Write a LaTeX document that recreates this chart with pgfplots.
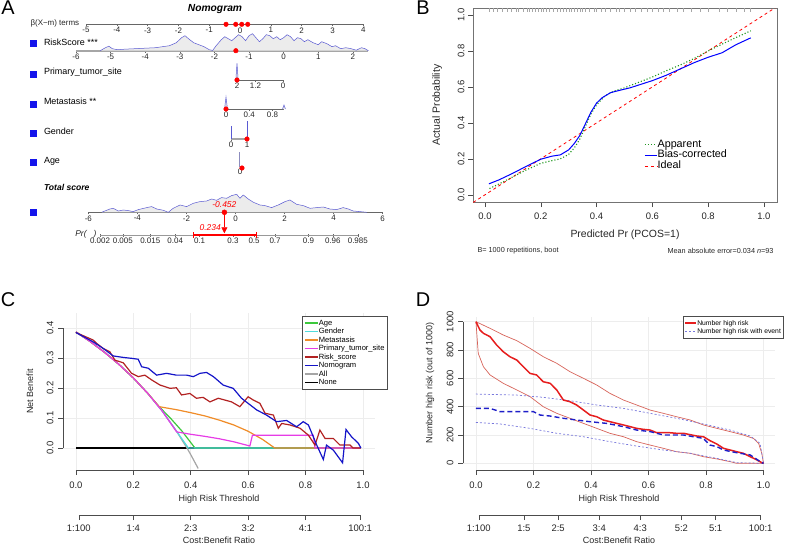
\documentclass[border=0pt]{standalone}
\usepackage{fontspec}
\setmainfont{Liberation Sans}
\usepackage{pgfplots}
\pgfplotsset{compat=1.18}
\usetikzlibrary{arrows.meta}

\definecolor{cAge}{RGB}{60,200,60}
\definecolor{cGender}{RGB}{80,220,220}
\definecolor{cMeta}{RGB}{240,140,40}
\definecolor{cPrim}{RGB}{230,60,230}
\definecolor{cRisk}{RGB}{178,34,34}
\definecolor{cNomo}{RGB}{20,20,200}
\definecolor{cAll}{RGB}{165,165,165}
\definecolor{dRed}{RGB}{230,30,30}
\definecolor{dRedCI}{RGB}{215,100,90}
\definecolor{dBlue}{RGB}{30,30,200}
\definecolor{dBlueCI}{RGB}{120,120,220}
\definecolor{denfill}{RGB}{236,236,236}
\definecolor{denline}{RGB}{90,90,210}
\definecolor{sqblue}{RGB}{20,20,235}
\definecolor{bGreen}{RGB}{30,150,30}

\newcommand{\fs}[1]{\fontsize{#1}{#1}\selectfont}

\pgfplotsset{
 rbase/.style={scale only axis, anchor=south west,
   /pgf/number format/assume math mode=true,
   tick align=outside, major tick length=5bp,
   ticklabel style={font=\fs{9.5}, text=black!85},
   tick style={black!70, line width=0.5bp},
   label style={font=\fs{9}, text=black!85}},
 nomo/.style={scale only axis, anchor=south west, clip=false,
   axis x line*=bottom, axis y line=none,
   axis line style={-, draw=black!60, line width=0.5bp},
   tick align=outside, major tick length=2bp,
   tick style={black!60, line width=0.4bp},
   xticklabel style={font=\fs{8}, text=black!85, inner sep=1bp},
   /pgf/number format/assume math mode=true,
   ymin=0, height=20bp, ymax=20}
}

\begin{document}
\begin{tikzpicture}
\useasboundingbox (0,0) rectangle (787bp,-544bp);

% panel letters
\node[font=\fs{20}] at (8bp,-8bp) {A};
\node[font=\fs{20}] at (423bp,-8bp) {B};
\node[font=\fs{20}] at (8bp,-300bp) {C};
\node[font=\fs{20}] at (423bp,-300bp) {D};

%================ PANEL A ================
\begin{axis}[scale only axis, at={(0bp,0bp)}, anchor=north west, width=390bp, height=270bp,
  xmin=0, xmax=390, ymin=0, ymax=270, y dir=reverse, hide axis, clip=false]
\addplot[only marks, mark=square*, mark size=2.9bp, sqblue] coordinates {(33.5,43)(33.5,74.5)(33.5,104)(33.5,133.5)(33.5,162.5)(33.5,212)};
\node[font=\fs{10.3}\bfseries\itshape] at (axis cs:215,9) {Nomogram};
\node[font=\fs{8}, anchor=west, text=black!85] at (axis cs:27,23) {β(X−m) terms};
\node[font=\fs{9}, anchor=west] at (axis cs:40.5,42) {RiskScore ***};
\node[font=\fs{9}, anchor=west] at (axis cs:40.5,72) {Primary\_tumor\_site};
\node[font=\fs{9}, anchor=west] at (axis cs:40.5,101.5) {Metastasis **};
\node[font=\fs{9}, anchor=west] at (axis cs:40.5,131) {Gender};
\node[font=\fs{9}, anchor=west] at (axis cs:40.5,161) {Age};
\node[font=\fs{8.6}\bfseries\itshape, anchor=west] at (axis cs:40.5,187) {Total score};
\end{axis}

% beta terms
\begin{axis}[nomo, at={(86bp,-24.3bp)}, width=277.3bp, height=5bp, ymax=1,
  xmin=-5, xmax=4, xtick={-5,...,4}]
\addplot[only marks, mark=*, mark size=2.3bp, red] coordinates {(-0.455,0)(-0.14,0)(0.055,0)(0.25,0)};
\end{axis}

% RiskScore
\begin{axis}[nomo, at={(76bp,-50.7bp)}, width=292.4bp, xmin=-6, xmax=2.45, xtick={-6,...,2},
  axis line style={draw=black!35, line width=2bp}]
\addplot[fill=denfill, draw=none] coordinates {(-5.30,0)(-5.15,3)(-5.05,4.5)(-4.95,2)(-4.8,1)(-4.6,1.5)(-4.3,2)(-4.0,2.5)(-3.7,3)(-3.5,4)(-3.3,5)(-3.1,8)(-2.95,13)(-2.85,15)(-2.75,12)(-2.6,8)(-2.45,6)(-2.3,4)(-2.15,1)(-2.05,0.3)(-1.95,5)(-1.8,11)(-1.7,14)(-1.6,12)(-1.5,10)(-1.4,13)(-1.3,16)(-1.2,14)(-1.1,10)(-1.0,15)(-0.9,17)(-0.8,13)(-0.7,9)(-0.6,12)(-0.5,16)(-0.4,15)(-0.3,12)(-0.2,14)(-0.1,11)(0.0,13)(0.1,16)(0.2,14)(0.3,10)(0.4,13)(0.5,12)(0.6,9)(0.7,11)(0.85,8)(1.0,6)(1.1,9)(1.25,7)(1.4,4)(1.5,5)(1.65,2)(1.8,3)(1.95,2)(2.1,0.5)(2.25,3)(2.35,2)(2.45,0)} \closedcycle;
\addplot[denline, line width=0.5bp] coordinates {(-5.30,0)(-5.15,3)(-5.05,4.5)(-4.95,2)(-4.8,1)(-4.6,1.5)(-4.3,2)(-4.0,2.5)(-3.7,3)(-3.5,4)(-3.3,5)(-3.1,8)(-2.95,13)(-2.85,15)(-2.75,12)(-2.6,8)(-2.45,6)(-2.3,4)(-2.15,1)(-2.05,0.3)(-1.95,5)(-1.8,11)(-1.7,14)(-1.6,12)(-1.5,10)(-1.4,13)(-1.3,16)(-1.2,14)(-1.1,10)(-1.0,15)(-0.9,17)(-0.8,13)(-0.7,9)(-0.6,12)(-0.5,16)(-0.4,15)(-0.3,12)(-0.2,14)(-0.1,11)(0.0,13)(0.1,16)(0.2,14)(0.3,10)(0.4,13)(0.5,12)(0.6,9)(0.7,11)(0.85,8)(1.0,6)(1.1,9)(1.25,7)(1.4,4)(1.5,5)(1.65,2)(1.8,3)(1.95,2)(2.1,0.5)(2.25,3)(2.35,2)(2.45,0)};
\addplot[only marks, mark=*, mark size=2.3bp, red] coordinates {(-1.38,0)};
\end{axis}

% Primary tumor site
\begin{axis}[nomo, at={(237bp,-80bp)}, width=46bp, xmin=0, xmax=2, x dir=reverse,
  xtick={0,1.2,2}, xticklabels={0,1.2,2}]
\addplot[denline, fill=denfill, line width=0.5bp] coordinates {(2.05,0)(2,16.7)(1.95,0)};
\addplot[only marks, mark=*, mark size=2.3bp, red] coordinates {(2,0)};
\end{axis}

% Metastasis
\begin{axis}[nomo, at={(226bp,-109bp)}, width=58bp, xmin=0, xmax=1, xtick={0,0.4,0.8}]
\addplot[denline, fill=denfill, line width=0.5bp] coordinates {(-0.025,0)(0,12)(0.025,0)};
\addplot[denline, fill=denfill, line width=0.5bp] coordinates {(0.975,0)(1,4)(1.025,0)};
\addplot[only marks, mark=*, mark size=2.3bp, red] coordinates {(0,0)};
\end{axis}

% Gender
\begin{axis}[nomo, at={(231bp,-139bp)}, width=16bp, xmin=0, xmax=1, xtick={0,1},
  axis line style={draw=black!35, line width=1.5bp}]
\addplot[denline, line width=0.8bp] coordinates {(0,0)(0,13)};
\addplot[denline, line width=0.8bp] coordinates {(1,0)(1,18)};
\addplot[only marks, mark=*, mark size=2.3bp, red] coordinates {(1,0)};
\end{axis}

% Age
\begin{axis}[nomo, at={(235bp,-168bp)}, width=10bp, height=16bp, ymax=16, xmin=-1, xmax=1,
  xtick={0}, axis line style={draw=none}, major tick length=0bp]
\addplot[black!30!denline!60, line width=1bp] coordinates {(-0.2,1)(-0.2,16)};
\addplot[only marks, mark=*, mark size=2.3bp, red] coordinates {(0.4,0)};
\end{axis}

% Total score
\begin{axis}[nomo, at={(88.3bp,-212.3bp)}, width=294.4bp, xmin=-6, xmax=6, xtick={-6,-4,...,6}]
\addplot[fill=denfill, draw=none] coordinates {(-5.45,0)(-5.39,0.7)(-5.12,3.3)(-4.98,4)(-4.78,1.3)(-4.57,2.3)(-4.37,1.7)(-4.17,0.7)(-3.96,2.7)(-3.62,4.7)(-3.42,5.7)(-3.21,3.3)(-2.94,2)(-2.74,0)(-2.54,4)(-2.26,7.3)(-1.99,5.7)(-1.72,9)(-1.45,10.7)(-1.18,11.3)(-0.97,13.3)(-0.77,12)(-0.57,14.7)(-0.36,14)(-0.16,16.7)(0.05,18)(0.18,14)(0.32,17.3)(0.52,13.3)(0.73,10)(1.0,7.3)(1.2,6.7)(1.47,4.7)(1.74,7.3)(2.02,10.7)(2.22,12.3)(2.49,8)(2.76,6.7)(3.04,4)(3.31,4.7)(3.58,5.3)(3.85,3.3)(4.12,2.7)(4.39,4.7)(4.6,3.3)(4.8,1.3)(5.07,0.7)(5.35,0)} \closedcycle;
\addplot[denline, line width=0.5bp] coordinates {(-5.45,0)(-5.39,0.7)(-5.12,3.3)(-4.98,4)(-4.78,1.3)(-4.57,2.3)(-4.37,1.7)(-4.17,0.7)(-3.96,2.7)(-3.62,4.7)(-3.42,5.7)(-3.21,3.3)(-2.94,2)(-2.74,0)(-2.54,4)(-2.26,7.3)(-1.99,5.7)(-1.72,9)(-1.45,10.7)(-1.18,11.3)(-0.97,13.3)(-0.77,12)(-0.57,14.7)(-0.36,14)(-0.16,16.7)(0.05,18)(0.18,14)(0.32,17.3)(0.52,13.3)(0.73,10)(1.0,7.3)(1.2,6.7)(1.47,4.7)(1.74,7.3)(2.02,10.7)(2.22,12.3)(2.49,8)(2.76,6.7)(3.04,4)(3.31,4.7)(3.58,5.3)(3.85,3.3)(4.12,2.7)(4.39,4.7)(4.6,3.3)(4.8,1.3)(5.07,0.7)(5.35,0)};
\addplot[red, line width=0.6bp, -{Triangle[length=6bp, width=6bp]}] coordinates {(-0.452,0)(-0.452,-21)};
\addplot[only marks, mark=*, mark size=2.5bp, red] coordinates {(-0.452,0)};
\node[red, font=\fs{8.5}\itshape] at (axis cs:-0.452,7.5) {-0.452};
\end{axis}

% Pr axis
\begin{axis}[nomo, at={(100bp,-235bp)}, width=257.8bp, height=10bp, ymax=10,
  xmin=-6.2126, xmax=4.1846, axis on top=false,
  xtick={-6.2126,-5.2933,-4.1846,-3.1781,-2.1972,-0.8473,0,0.8473,2.1972,3.1781,4.1846},
  xticklabels={0.002,0.005,0.015,0.04,0.1,0.3,0.5,0.7,0.9,0.96,0.985},
  axis line style={draw=black!40, line width=0.8bp}, tick align=center, major tick length=3bp]
\addplot[red, line width=1.2bp, {Bar[width=6bp]}-{Bar[width=6bp]}] coordinates {(-2.46,0)(0.12,0)};
\node[red, font=\fs{8.5}\itshape] at (axis cs:-1.77,7.7) {0.234};
\node[font=\fs{8.5}\itshape, anchor=east, text=black!85] at (axis cs:-6.2126,0.5) {Pr(\ \ \ )};
\end{axis}

%================ PANEL B ================
\begin{axis}[rbase, at={(473bp,-202bp)}, width=304bp, height=194bp,
  xmin=-0.043, xmax=1.047, ymin=-0.04, ymax=1.039,
  axis line style={black!55, line width=0.6bp},
  xtick={0,0.2,...,1.0}, ytick={0,0.2,...,1.0},
  xtick pos=bottom, ytick pos=left, major tick length=5bp,
  xticklabel style={/pgf/number format/fixed, /pgf/number format/fixed zerofill, /pgf/number format/precision=1},
  yticklabel style={rotate=90, anchor=south, /pgf/number format/fixed, /pgf/number format/fixed zerofill, /pgf/number format/precision=1},
  xticklabel shift=2bp, yticklabel shift=0bp,
  xlabel={Predicted Pr (PCOS=1)}, xlabel style={font=\fs{10.5}, at={(axis description cs:0.5,0)}, anchor=center, yshift=-33bp},
  ylabel={Actual Probability}, ylabel style={font=\fs{10.5}, at={(axis description cs:-0.118,0.5)}, anchor=center},
  legend style={at={(0.553,0.335)}, anchor=north west, draw=none, fill=none, font=\fs{10.8},
    row sep=0bp, nodes={inner sep=0.3bp, text height=7.6bp, text depth=2.6bp}},
  legend cell align=left,
  legend image code/.code={\draw[line width=1bp, #1] (0bp,0bp) -- (12bp,0bp);}]
\addplot[forget plot, only marks, mark=|, mark size=2bp, black!35, mark options={line width=0.3bp}] coordinates {(0.016,1.027)(0.03,1.027)(0.045,1.027)(0.06,1.027)(0.08,1.027)(0.095,1.027)(0.11,1.027)(0.12,1.027)(0.135,1.027)(0.15,1.027)(0.16,1.027)(0.17,1.027)(0.18,1.027)(0.19,1.027)(0.2,1.027)(0.21,1.027)(0.22,1.027)(0.23,1.027)(0.245,1.027)(0.26,1.027)(0.27,1.027)(0.28,1.027)(0.29,1.027)(0.3,1.027)(0.31,1.027)(0.32,1.027)(0.33,1.027)(0.34,1.027)(0.35,1.027)(0.36,1.027)(0.375,1.027)(0.39,1.027)(0.4,1.027)(0.415,1.027)(0.43,1.027)(0.45,1.027)(0.47,1.027)(0.48,1.027)(0.5,1.027)(0.52,1.027)(0.54,1.027)(0.56,1.027)(0.58,1.027)(0.6,1.027)(0.62,1.027)(0.64,1.027)(0.66,1.027)(0.69,1.027)(0.71,1.027)(0.74,1.027)(0.77,1.027)(0.8,1.027)(0.84,1.027)(0.87,1.027)(0.9,1.027)(0.93,1.027)(0.95,1.027)};
\addplot[forget plot, red, dashed, line width=0.8bp] coordinates {(-0.06,-0.06)(1.06,1.06)};
\addplot[forget plot, bGreen, dotted, line width=1.1bp] coordinates {(0.016,0.035)(0.05,0.06)(0.1,0.10)(0.15,0.14)(0.2,0.175)(0.24,0.19)(0.27,0.20)(0.3,0.225)(0.32,0.26)(0.34,0.31)(0.36,0.38)(0.38,0.45)(0.4,0.50)(0.43,0.55)(0.46,0.575)(0.5,0.595)(0.55,0.625)(0.6,0.655)(0.65,0.69)(0.7,0.722)(0.75,0.758)(0.8,0.80)(0.85,0.838)(0.9,0.875)(0.953,0.912)};
\addplot[forget plot, blue, line width=1bp] coordinates {(0.014,0.061)(0.05,0.083)(0.1,0.120)(0.15,0.160)(0.2,0.198)(0.24,0.215)(0.27,0.222)(0.3,0.25)(0.32,0.285)(0.34,0.33)(0.36,0.395)(0.38,0.46)(0.4,0.51)(0.42,0.54)(0.45,0.568)(0.48,0.58)(0.52,0.595)(0.56,0.615)(0.6,0.635)(0.65,0.665)(0.7,0.70)(0.75,0.735)(0.8,0.765)(0.85,0.79)(0.9,0.835)(0.953,0.873)};
\addlegendimage{bGreen, dotted, line width=1.1bp}\addlegendentry{Apparent}
\addlegendimage{blue, line width=1bp}\addlegendentry{Bias-corrected}
\addlegendimage{red, dashed, line width=0.8bp}\addlegendentry{Ideal}
\end{axis}
\node[font=\fs{7.3}, anchor=west, text=black!85] at (474bp,-251bp) {B= 1000 repetitions, boot};
\node[font=\fs{7.3}, anchor=east, text=black!85] at (777bp,-251bp) {Mean absolute error=0.034 \textit{n}=93};

%================ PANEL C ================
\begin{axis}[rbase, at={(63bp,-470bp)}, width=312bp, height=157bp,
  xmin=-0.045, xmax=1.042, ymin=-0.073, ymax=0.45, clip=false,
  axis line style={draw=none}, xtick pos=bottom, ytick pos=left,
  xtick={0,0.2,...,1.0}, ytick={0,0.1,...,0.4},
  grid=major, grid style={black!7, line width=0.5bp},
  xticklabel style={/pgf/number format/fixed, /pgf/number format/fixed zerofill, /pgf/number format/precision=1},
  yticklabel style={rotate=90, anchor=south, /pgf/number format/fixed, /pgf/number format/fixed zerofill, /pgf/number format/precision=1},
  xticklabel shift=3bp, yticklabel shift=1bp,
  xlabel={High Risk Threshold}, xlabel style={at={(axis description cs:0.5,0)}, anchor=center, yshift=-29bp},
  ylabel={Net Benefit}, ylabel style={at={(axis description cs:-0.106,0.5)}, anchor=center},
  legend style={at={(0.766,0.981)}, anchor=north west, draw=black!70, line width=0.5bp, fill=white, font=\fs{7.6},
    inner xsep=2bp, inner ysep=2.5bp, row sep=0bp, nodes={inner sep=0.4bp, text height=5.9bp, text depth=1.8bp}},
  legend cell align=left,
  legend image code/.code={\draw[line width=1.2bp, #1] (0bp,0bp) -- (13bp,0bp);}]
\draw[black!70, line width=0.5bp] (axis cs:0,-0.073) -- (axis cs:1,-0.073);
\draw[black!70, line width=0.5bp] (axis cs:-0.045,0) -- (axis cs:-0.045,0.4);
% None
\addplot[forget plot, black, line width=1.4bp] coordinates {(0,0)(0.99,0)};
% All
\addplot[forget plot, cAll, line width=1.2bp] coordinates {(0,0.387)(0.05,0.3547)(0.1,0.3189)(0.15,0.2788)(0.2,0.2337)(0.25,0.1827)(0.3,0.1243)(0.35,0.0569)(0.387,0)(0.4,-0.0217)(0.426,-0.068)};
% Age
\addplot[forget plot, cAge, line width=1.2bp] coordinates {(0,0.387)(0.05,0.3547)(0.1,0.3189)(0.15,0.2788)(0.2,0.2337)(0.25,0.1827)(0.29,0.138)(0.33,0.099)(0.37,0.056)(0.415,0)(0.99,0)};
% Gender
\addplot[forget plot, cGender, line width=1.2bp] coordinates {(0,0.387)(0.05,0.3547)(0.1,0.3189)(0.15,0.2788)(0.2,0.2337)(0.25,0.1827)(0.3,0.1243)(0.35,0.057)(0.392,0)(0.99,0)};
% Metastasis
\addplot[forget plot, cMeta, line width=1.2bp] coordinates {(0,0.387)(0.05,0.3547)(0.1,0.3189)(0.15,0.2788)(0.2,0.2337)(0.25,0.1827)(0.29,0.138)(0.35,0.128)(0.4,0.118)(0.45,0.107)(0.5,0.093)(0.55,0.077)(0.6,0.056)(0.65,0.029)(0.693,0)(0.99,0)};
% Primary tumor site
\addplot[forget plot, cPrim, line width=1.2bp] coordinates {(0,0.387)(0.05,0.3547)(0.1,0.3189)(0.15,0.2788)(0.2,0.2337)(0.25,0.1827)(0.3,0.1243)(0.351,0.054)(0.4,0.046)(0.45,0.039)(0.5,0.031)(0.55,0.021)(0.606,0.007)(0.615,0.043)(0.827,0.043)(0.833,0)(0.99,0)};
% Risk score
\addplot[forget plot, cRisk, line width=1.2bp] coordinates {(0,0.385)(0.06,0.36)(0.072,0.349)(0.095,0.332)(0.118,0.321)(0.136,0.293)(0.165,0.284)(0.194,0.249)(0.217,0.238)(0.24,0.243)(0.264,0.227)(0.293,0.21)(0.328,0.199)(0.35,0.201)(0.368,0.177)(0.397,0.182)(0.42,0.166)(0.443,0.169)(0.467,0.154)(0.496,0.166)(0.519,0.16)(0.542,0.154)(0.571,0.138)(0.6,0.171)(0.618,0.16)(0.641,0.149)(0.659,0.116)(0.688,0.11)(0.705,0.066)(0.717,0.082)(0.746,0.077)(0.781,0.066)(0.81,0.043)(0.833,0.01)(0.85,0.06)(0.868,0.032)(0.897,0.032)(0.92,0.01)(0.955,0.01)(0.966,0)(0.993,0)};
% Nomogram
\addplot[forget plot, cNomo, line width=1.2bp] coordinates {(0,0.385)(0.06,0.354)(0.095,0.332)(0.13,0.307)(0.165,0.302)(0.194,0.299)(0.217,0.296)(0.229,0.271)(0.252,0.266)(0.281,0.243)(0.316,0.249)(0.35,0.243)(0.386,0.243)(0.409,0.238)(0.432,0.249)(0.455,0.252)(0.479,0.238)(0.513,0.21)(0.548,0.199)(0.577,0.166)(0.6,0.149)(0.63,0.127)(0.664,0.11)(0.699,0.088)(0.734,0.092)(0.769,0.071)(0.792,0.088)(0.81,0.077)(0.839,0.01)(0.862,-0.038)(0.873,0.01)(0.897,-0.007)(0.929,-0.049)(0.941,0.062)(0.96,0.038)(0.984,0.016)(0.993,0)};
\addlegendimage{color=cAge}\addlegendentry{Age}
\addlegendimage{color=cGender}\addlegendentry{Gender}
\addlegendimage{color=cMeta}\addlegendentry{Metastasis}
\addlegendimage{color=cPrim}\addlegendentry{Primary\_tumor\_site}
\addlegendimage{color=cRisk}\addlegendentry{Risk\_score}
\addlegendimage{color=cNomo}\addlegendentry{Nomogram}
\addlegendimage{color=cAll}\addlegendentry{All}
\addlegendimage{color=black}\addlegendentry{None}
\end{axis}

\begin{axis}[rbase, at={(63bp,-515bp)}, width=312bp, height=8bp,
  xmin=-0.045, xmax=1.042, ymin=0, ymax=1, clip=false,
  axis x line*=bottom, axis y line=none, axis line style={draw=none},
  xtick={0.0099,0.2,0.4,0.6,0.8,0.9901}, xticklabels={1:100,1:4,2:3,3:2,4:1,100:1},
  xticklabel shift=1bp,
  xlabel={Cost:Benefit Ratio}, xlabel style={at={(axis description cs:0.5,0)}, anchor=center, yshift=-25bp}]
\draw[black!70, line width=0.5bp] (axis cs:0.0099,0) -- (axis cs:0.9901,0);
\end{axis}

%================ PANEL D ================
\begin{axis}[rbase, at={(463bp,-470bp)}, width=312bp, height=153bp,
  xmin=-0.045, xmax=1.04, ymin=-47, ymax=1033, clip=false,
  axis line style={draw=none}, xtick pos=bottom, ytick pos=left,
  xtick={0,0.2,...,1.0}, ytick={0,200,...,1000},
  grid=major, grid style={black!7, line width=0.5bp},
  xticklabel style={/pgf/number format/fixed, /pgf/number format/fixed zerofill, /pgf/number format/precision=1},
  yticklabel style={rotate=90, anchor=south, /pgf/number format/1000 sep={}},
  xticklabel shift=3bp, yticklabel shift=1bp,
  xlabel={High Risk Threshold}, xlabel style={at={(axis description cs:0.5,0)}, anchor=center, yshift=-29bp},
  ylabel={Number high risk (out of 1000)}, ylabel style={at={(axis description cs:-0.106,0.57)}, anchor=center},
  legend style={at={(0.705,1.0065)}, anchor=north west, draw=black!70, line width=0.5bp, fill=white, font=\fs{6.8},
    inner xsep=1.5bp, inner ysep=2.5bp, row sep=0bp, nodes={inner sep=0.4bp, text height=5.9bp, text depth=1.8bp}},
  legend cell align=left,
  legend image code/.code={\draw[line width=1.2bp, #1] (0bp,0bp) -- (11bp,0bp);}]
\draw[black!70, line width=0.5bp] (axis cs:0,-47) -- (axis cs:1,-47);
\draw[black!70, line width=0.5bp] (axis cs:-0.045,0) -- (axis cs:-0.045,1000);
% CI high risk
\addplot[forget plot, dRedCI, line width=0.7bp] coordinates {(0,1000)(0.049,953)(0.095,906)(0.142,866)(0.188,812)(0.234,753)(0.281,706)(0.327,647)(0.374,600)(0.42,553)(0.466,494)(0.513,447)(0.559,412)(0.606,376)(0.652,353)(0.698,329)(0.745,306)(0.791,271)(0.838,247)(0.884,224)(0.93,200)(0.965,176)(0.983,141)(0.994,71)(1,0)};
\addplot[forget plot, dRedCI, line width=0.7bp] coordinates {(0,1000)(0.008,776)(0.026,682)(0.049,624)(0.095,565)(0.142,518)(0.188,471)(0.234,400)(0.281,353)(0.327,318)(0.374,282)(0.42,247)(0.466,212)(0.513,188)(0.559,153)(0.606,129)(0.652,106)(0.698,82)(0.745,71)(0.791,47)(0.838,31)(0.884,12)(0.907,0)(1,0)};
% CI with event
\addplot[forget plot, dBlueCI, line width=0.7bp, dash pattern=on 2bp off 2bp] coordinates {(0,489)(0.142,482)(0.234,466)(0.327,442)(0.42,412)(0.513,388)(0.606,353)(0.698,318)(0.791,278)(0.884,235)(0.954,193)(0.988,141)(1,0)};
\addplot[forget plot, dBlueCI, line width=0.7bp, dash pattern=on 2bp off 2bp] coordinates {(0,289)(0.084,278)(0.188,247)(0.281,212)(0.374,188)(0.466,153)(0.559,122)(0.652,94)(0.745,71)(0.838,35)(0.907,5)(1,0)};
% number high risk
\addplot[forget plot, dRed, line width=1.5bp] coordinates {(0,1000)(0.014,941)(0.026,918)(0.049,894)(0.072,835)(0.095,788)(0.118,753)(0.142,729)(0.165,682)(0.188,635)(0.211,624)(0.234,576)(0.258,565)(0.281,518)(0.304,447)(0.327,435)(0.35,412)(0.374,376)(0.397,341)(0.42,329)(0.443,306)(0.466,294)(0.49,282)(0.513,271)(0.536,259)(0.559,247)(0.582,240)(0.606,235)(0.629,216)(0.675,216)(0.698,212)(0.722,212)(0.768,193)(0.791,188)(0.814,160)(0.838,136)(0.861,106)(0.884,94)(0.907,82)(0.93,71)(0.954,47)(0.977,24)(0.994,5)(1,0)};
% number with event
\addplot[forget plot, dBlue, line width=1.4bp, dash pattern=on 5bp off 3bp] coordinates {(0,388)(0.049,388)(0.084,365)(0.118,365)(0.2,365)(0.223,341)(0.258,334)(0.304,318)(0.35,306)(0.397,294)(0.455,282)(0.513,259)(0.559,235)(0.606,224)(0.652,200)(0.722,200)(0.791,176)(0.814,129)(0.838,118)(0.861,94)(0.907,75)(0.954,59)(0.994,5)(1,0)};
\addlegendimage{draw=dRed, line width=1.2bp}\addlegendentry{Number high risk}
\addlegendimage{draw=dBlueCI, line width=0.7bp, dash pattern=on 2bp off 2bp}\addlegendentry{Number high risk with event}
\end{axis}

\begin{axis}[rbase, at={(463bp,-515bp)}, width=312bp, height=8bp,
  xmin=-0.045, xmax=1.04, ymin=0, ymax=1, clip=false,
  axis x line*=bottom, axis y line=none, axis line style={draw=none},
  xtick={0.0099,0.16667,0.28571,0.42857,0.57143,0.71429,0.83333,0.9901},
  xticklabels={1:100,1:5,2:5,3:4,4:3,5:2,5:1,100:1},
  xticklabel shift=1bp,
  xlabel={Cost:Benefit Ratio}, xlabel style={at={(axis description cs:0.5,0)}, anchor=center, yshift=-25bp}]
\draw[black!70, line width=0.5bp] (axis cs:0.0099,0) -- (axis cs:0.9901,0);
\end{axis}

\end{tikzpicture}
\end{document}
